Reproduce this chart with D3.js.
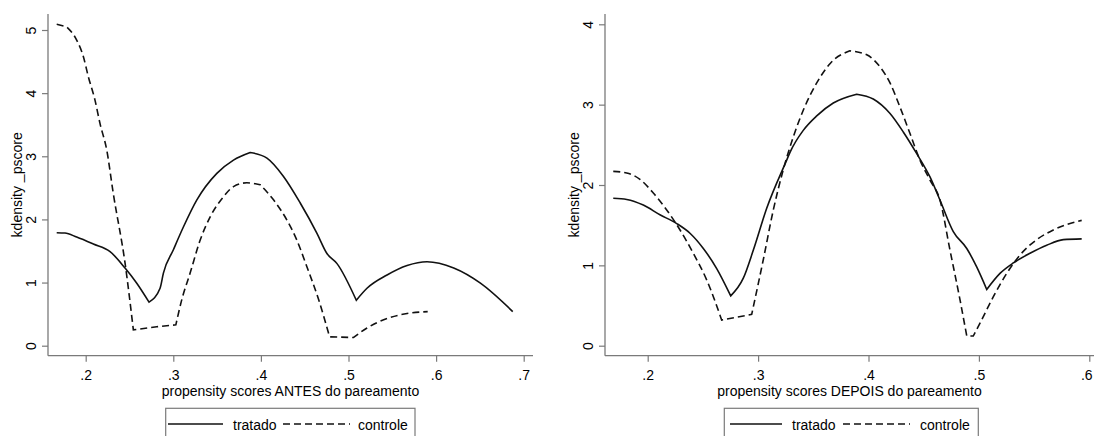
<!DOCTYPE html>
<html><head><meta charset="utf-8">
<script src="https://cdn.jsdelivr.net/npm/d3@7"></script>
<style>body{margin:0;background:#fff}svg{display:block;font-family:"Liberation Sans",Arial,sans-serif}</style>
</head><body><svg id="c" width="1094" height="436"></svg>
<script>
// ---------- data ----------
const seriesNames = ["tratado", "controle"];
const yTitle = "kdensity _pscore";
const xTitleAntes = "propensity scores ANTES do pareamento";
const xTitleDepois = "propensity scores DEPOIS do pareamento";

const xTicksAntes = [0.2, 0.3, 0.4, 0.5, 0.6, 0.7];
const xTickLabelsAntes = [".2", ".3", ".4", ".5", ".6", ".7"];
const yTicksAntes = [0, 1, 2, 3, 4, 5];
const xTicksDepois = [0.2, 0.3, 0.4, 0.5, 0.6];
const xTickLabelsDepois = [".2", ".3", ".4", ".5", ".6"];
const yTicksDepois = [0, 1, 2, 3, 4];

const antesTratadoX = [0.1669,0.1763,0.1897,0.2087,0.2278,0.2449,0.2583,0.2723,0.2849,0.2887,0.3001,0.3115,0.3269,0.3497,0.3687,0.3878,0.4069,0.4258,0.4449,0.4640,0.4754,0.4869,0.5089,0.5211,0.5440,0.5669,0.5897,0.6201,0.6506,0.6875];
const antesTratadoY = [1.79,1.785,1.72,1.61,1.49,1.23,0.99,0.69,0.91,1.15,1.52,1.88,2.31,2.73,2.94,3.06,2.97,2.68,2.26,1.78,1.46,1.30,0.72,0.91,1.12,1.27,1.33,1.23,0.99,0.54];

const antesControleX = [0.1669,0.1783,0.1897,0.1973,0.2030,0.2106,0.2163,0.2240,0.2315,0.2449,0.2544,0.2811,0.3029,0.3097,0.3192,0.3306,0.3421,0.3573,0.3687,0.3839,0.3992,0.4144,0.4297,0.4411,0.4525,0.4659,0.4784,0.5058,0.5211,0.5440,0.5669,0.5904];
const antesControleY = [5.09,5.05,4.84,4.58,4.26,3.89,3.52,3.10,2.41,1.31,0.25,0.30,0.33,0.73,1.15,1.67,2.04,2.36,2.52,2.58,2.55,2.31,1.99,1.67,1.25,0.73,0.14,0.13,0.28,0.43,0.51,0.54];

const depoisTratadoX = [0.1688,0.1810,0.1960,0.2111,0.2263,0.2383,0.2504,0.2625,0.2752,0.2866,0.2957,0.3078,0.3259,0.3290,0.3409,0.3531,0.3681,0.3893,0.4043,0.4195,0.4315,0.4437,0.4557,0.4648,0.4768,0.4890,0.4980,0.5071,0.5191,0.5312,0.5463,0.5614,0.5765,0.5931];
const depoisTratadoY = [1.835,1.82,1.75,1.63,1.52,1.40,1.21,0.96,0.62,0.84,1.19,1.71,2.31,2.41,2.68,2.86,3.02,3.13,3.07,2.89,2.66,2.39,2.10,1.81,1.42,1.21,0.98,0.70,0.90,1.03,1.15,1.25,1.32,1.33];

const depoisControleX = [0.1688,0.1810,0.1930,0.2051,0.2172,0.2293,0.2413,0.2534,0.2670,0.2942,0.3047,0.3138,0.3228,0.3319,0.3409,0.3531,0.3651,0.3832,0.3984,0.4104,0.4195,0.4285,0.4376,0.4466,0.4557,0.4648,0.4738,0.4829,0.4890,0.4949,0.5010,0.5131,0.5252,0.5373,0.5524,0.5674,0.5931];
const depoisControleY = [2.17,2.15,2.07,1.90,1.69,1.44,1.15,0.82,0.32,0.39,1.07,1.69,2.19,2.60,2.93,3.27,3.51,3.67,3.62,3.47,3.27,2.97,2.64,2.31,2.06,1.81,1.19,0.57,0.12,0.12,0.28,0.61,0.90,1.13,1.32,1.44,1.56];

// ---------- layout ----------
const svg = d3.select("#c");
const axisColor = "#7a7a7a";
const lineColor = "#111";

const panels = [
  { xDomain: [0.2, 0.7], xRange: [85.7, 523.7], yDomain: [0, 5], yRange: [345.7, 30],
    axisLeft: 48, axisRight: 533, axisTop: 14, axisBottom: 355.7, lastLabelShift: 0,
    xTicks: xTicksAntes, xLabels: xTickLabelsAntes, yTicks: yTicksAntes, xTitle: xTitleAntes,
    series: [[antesTratadoX, antesTratadoY], [antesControleX, antesControleY]],
    legend: { x0: 165.7, x1: 415, solid: [168, 223], tLab: 233, dash: [283, 350], cLab: 358 } },
  { xDomain: [0.2, 0.6], xRange: [647.7, 1089.3], yDomain: [0, 4], yRange: [345.7, 24.3],
    axisLeft: 605, axisRight: 1094, axisTop: 14, axisBottom: 355.7, lastLabelShift: -3,
    xTicks: xTicksDepois, xLabels: xTickLabelsDepois, yTicks: yTicksDepois, xTitle: xTitleDepois,
    series: [[depoisTratadoX, depoisTratadoY], [depoisControleX, depoisControleY]],
    legend: { x0: 724.3, x1: 978.3, solid: [730, 782], tLab: 792, dash: [843, 910], cLab: 920 } }
];

// Smooth runs between sharp corners; corners stay sharp.
function kinkedPath(pts, x, y) {
  const px = pts.map(d => [x(d[0]), y(d[1])]);
  const ang = [];
  for (let i = 0; i < px.length - 1; i++) ang.push(Math.atan2(px[i + 1][1] - px[i][1], px[i + 1][0] - px[i][0]));
  const runs = [];
  let start = 0;
  for (let i = 1; i < px.length - 1; i++) {
    const dA = Math.abs(ang[i] - ang[i - 1]) * 180 / Math.PI;
    if (dA > 30) { runs.push(pts.slice(start, i + 1)); start = i; }
  }
  runs.push(pts.slice(start));
  const seg = d3.line().x(d => x(d[0])).y(d => y(d[1])).curve(d3.curveMonotoneX);
  return runs.map((r, k) => {
    const s = seg(r);
    return k === 0 ? s : "L" + s.slice(1);
  }).join("");
}

panels.forEach(p => {
  const x = d3.scaleLinear().domain(p.xDomain).range(p.xRange);
  const y = d3.scaleLinear().domain(p.yDomain).range(p.yRange);
  const g = svg.append("g");

  // axis lines
  g.append("line").attr("x1", p.axisLeft).attr("x2", p.axisLeft).attr("y1", p.axisTop).attr("y2", p.axisBottom)
    .attr("stroke", axisColor).attr("stroke-width", 1.3);
  g.append("line").attr("x1", p.axisLeft).attr("x2", p.axisRight).attr("y1", p.axisBottom).attr("y2", p.axisBottom)
    .attr("stroke", axisColor).attr("stroke-width", 1.3);

  // x axis
  const xa = g.append("g").attr("transform", `translate(0,${p.axisBottom})`)
    .call(d3.axisBottom(x).tickValues(p.xTicks).tickFormat((d, i) => p.xLabels[i]).tickSize(6).tickSizeOuter(0));
  xa.select(".domain").remove();
  xa.selectAll(".tick line").attr("stroke", axisColor).attr("stroke-width", 1.2);
  const nX = p.xTicks.length;
  xa.selectAll(".tick text").attr("y", 14).attr("font-size", 14).attr("fill", "#000")
    .attr("x", (d, i) => i === nX - 1 ? p.lastLabelShift : 0)
    .attr("font-family", '"Liberation Sans",Arial,sans-serif');

  // y axis
  const ya = g.append("g").attr("transform", `translate(${p.axisLeft},0)`)
    .call(d3.axisLeft(y).tickValues(p.yTicks).tickFormat(d3.format("d")).tickSize(6).tickSizeOuter(0));
  ya.select(".domain").remove();
  ya.selectAll(".tick line").attr("stroke", axisColor).attr("stroke-width", 1.2);
  ya.selectAll(".tick text").attr("x", 0).attr("dy", "0.35em").attr("text-anchor", "middle")
    .attr("transform", "translate(-17,0) rotate(-90)").attr("font-size", 14).attr("fill", "#000")
    .attr("font-family", '"Liberation Sans",Arial,sans-serif');

  // titles
  g.append("text").attr("transform", `translate(${p.axisLeft - 26},${(p.axisTop + p.axisBottom) / 2}) rotate(-90)`)
    .attr("text-anchor", "middle").attr("font-size", 14).text(yTitle);
  g.append("text").attr("x", (p.axisLeft + p.axisRight) / 2).attr("y", 396)
    .attr("text-anchor", "middle").attr("font-size", 14).text(p.xTitle);

  // curves
  p.series.forEach((s, i) => {
    const pts = s[0].map((v, k) => [v, s[1][k]]);
    g.append("path").attr("d", kinkedPath(pts, x, y)).attr("fill", "none")
      .attr("stroke", lineColor).attr("stroke-width", 1.6)
      .attr("stroke-dasharray", i === 1 ? "7,4" : null).attr("stroke-linejoin", "miter");
  });

  // legend
  const L = p.legend;
  g.append("rect").attr("x", L.x0).attr("y", 408.3).attr("width", L.x1 - L.x0).attr("height", 40)
    .attr("fill", "none").attr("stroke", axisColor).attr("stroke-width", 1.2);
  g.append("line").attr("x1", L.solid[0]).attr("x2", L.solid[1]).attr("y1", 424).attr("y2", 424)
    .attr("stroke", lineColor).attr("stroke-width", 1.6);
  g.append("text").attr("x", L.tLab).attr("y", 429.5).attr("font-size", 14).text(seriesNames[0]);
  g.append("line").attr("x1", L.dash[0]).attr("x2", L.dash[1]).attr("y1", 424).attr("y2", 424)
    .attr("stroke", lineColor).attr("stroke-width", 1.6).attr("stroke-dasharray", "7,4");
  g.append("text").attr("x", L.cLab).attr("y", 429.5).attr("font-size", 14).text(seriesNames[1]);
});
</script></body></html>
